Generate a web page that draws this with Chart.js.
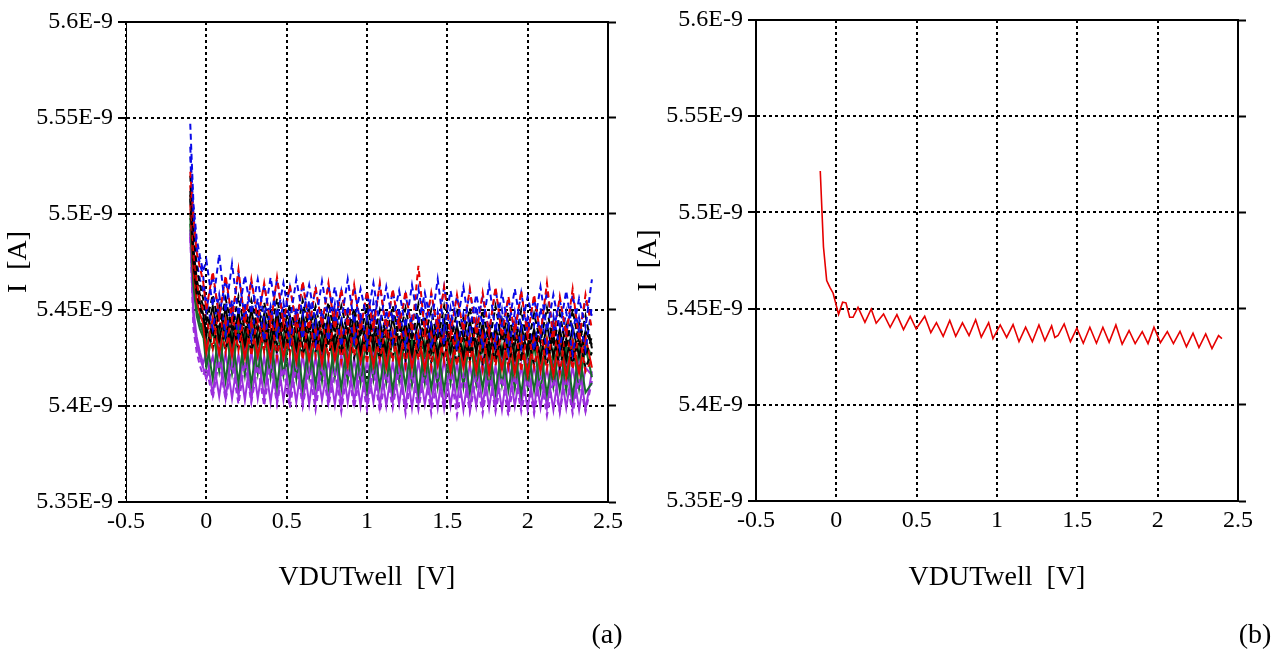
<!DOCTYPE html>
<html><head><meta charset="utf-8">
<script src="https://cdn.jsdelivr.net/npm/chart.js@4.4.1/dist/chart.umd.min.js"></script>
<style>
html,body{margin:0;padding:0;background:#fff;}
body{width:1287px;height:657px;position:relative;overflow:hidden;font-family:'Liberation Serif',serif;}
canvas{position:absolute;top:0;}
#ca{left:0;}
#cb{left:630px;}
.lab{position:absolute;top:617px;width:60px;text-align:center;font-size:28px;line-height:34px;color:#000;font-family:'Liberation Serif',serif;}
</style></head><body>
<canvas id="ca" width="630" height="657"></canvas>
<canvas id="cb" width="657" height="657"></canvas>
<div class="lab" style="left:577px">(a)</div>
<div class="lab" style="left:1225px">(b)</div>
<script>
const xTicks = [-0.5, 0, 0.5, 1, 1.5, 2, 2.5];
const yTicks = [5.35, 5.4, 5.45, 5.5, 5.55, 5.6];
const xTitle = 'VDUTwell  [V]';
const yTitle = 'I  [A]';

// Panel (a): shared sweep voltages (V)
const xa = [-0.1,-0.08,-0.06,-0.04,-0.02,0,0.04,0.08,0.12,0.16,0.2,0.24,0.28,0.32,0.36,0.4,0.44,0.48,0.52,0.56,0.6,0.64,0.68,0.72,0.76,0.8,0.84,0.88,0.92,0.96,1,1.04,1.08,1.12,1.16,1.2,1.24,1.28,1.32,1.36,1.4,1.44,1.48,1.52,1.56,1.6,1.64,1.68,1.72,1.76,1.8,1.84,1.88,1.92,1.96,2,2.04,2.08,2.12,2.16,2.2,2.24,2.28,2.32,2.36,2.4];

// Panel (a) currents, in units of 1E-9 A
const blueDash1 = [5.547,5.505,5.487,5.478,5.470,5.476,5.452,5.479,5.449,5.474,5.447,5.468,5.448,5.466,5.445,5.467,5.446,5.464,5.444,5.466,5.447,5.463,5.443,5.465,5.445,5.462,5.444,5.466,5.443,5.461,5.445,5.464,5.442,5.462,5.444,5.460,5.441,5.463,5.443,5.459,5.442,5.466,5.440,5.460,5.443,5.462,5.440,5.458,5.442,5.463,5.439,5.459,5.441,5.461,5.440,5.457,5.442,5.462,5.439,5.458,5.440,5.460,5.438,5.456,5.441,5.466];
const redDash1 = [5.522,5.498,5.480,5.472,5.465,5.450,5.470,5.446,5.468,5.445,5.471,5.443,5.466,5.444,5.464,5.442,5.467,5.443,5.463,5.441,5.465,5.440,5.462,5.442,5.464,5.440,5.461,5.441,5.463,5.439,5.460,5.440,5.464,5.438,5.461,5.440,5.460,5.439,5.473,5.438,5.459,5.440,5.462,5.437,5.458,5.439,5.461,5.437,5.459,5.438,5.462,5.436,5.457,5.438,5.460,5.436,5.458,5.437,5.464,5.435,5.457,5.437,5.461,5.434,5.458,5.440];
const blueDash3 = [5.535,5.500,5.482,5.474,5.468,5.450,5.468,5.447,5.466,5.446,5.469,5.445,5.465,5.446,5.463,5.444,5.466,5.445,5.462,5.443,5.464,5.444,5.461,5.442,5.463,5.443,5.460,5.441,5.462,5.443,5.459,5.441,5.463,5.440,5.460,5.442,5.458,5.440,5.461,5.441,5.458,5.439,5.462,5.441,5.457,5.439,5.460,5.440,5.457,5.438,5.461,5.440,5.456,5.438,5.459,5.439,5.456,5.437,5.460,5.439,5.455,5.437,5.458,5.438,5.455,5.447];
const blueDash2 = [5.530,5.492,5.475,5.466,5.460,5.455,5.440,5.458,5.437,5.455,5.436,5.454,5.435,5.456,5.434,5.452,5.436,5.454,5.433,5.451,5.435,5.455,5.432,5.450,5.434,5.453,5.431,5.452,5.433,5.449,5.432,5.454,5.430,5.450,5.433,5.451,5.431,5.448,5.432,5.453,5.430,5.449,5.432,5.451,5.429,5.448,5.431,5.452,5.430,5.447,5.431,5.450,5.428,5.449,5.430,5.446,5.429,5.451,5.428,5.447,5.430,5.449,5.427,5.446,5.429,5.452];
const blackDash1 = [5.520,5.490,5.472,5.463,5.456,5.443,5.458,5.441,5.456,5.440,5.457,5.439,5.455,5.440,5.454,5.438,5.456,5.439,5.453,5.437,5.455,5.438,5.452,5.437,5.454,5.436,5.452,5.438,5.451,5.436,5.453,5.435,5.450,5.437,5.452,5.435,5.451,5.434,5.453,5.436,5.450,5.434,5.452,5.433,5.449,5.435,5.451,5.433,5.450,5.432,5.452,5.434,5.449,5.432,5.450,5.431,5.448,5.433,5.451,5.431,5.448,5.430,5.450,5.432,5.447,5.430];
const blackDash3 = [5.512,5.482,5.466,5.458,5.452,5.450,5.436,5.452,5.435,5.451,5.434,5.450,5.433,5.451,5.434,5.449,5.432,5.450,5.433,5.448,5.431,5.450,5.432,5.447,5.431,5.449,5.430,5.447,5.432,5.446,5.430,5.448,5.429,5.446,5.431,5.447,5.429,5.445,5.430,5.447,5.428,5.445,5.430,5.444,5.428,5.446,5.427,5.444,5.429,5.443,5.427,5.445,5.428,5.443,5.426,5.444,5.428,5.442,5.426,5.444,5.427,5.442,5.425,5.443,5.426,5.436];
const redDash2 = [5.515,5.480,5.465,5.455,5.450,5.446,5.430,5.451,5.428,5.449,5.429,5.450,5.426,5.447,5.428,5.449,5.425,5.446,5.427,5.448,5.424,5.447,5.426,5.445,5.425,5.448,5.423,5.444,5.426,5.447,5.422,5.445,5.424,5.443,5.423,5.446,5.421,5.444,5.424,5.442,5.420,5.445,5.423,5.443,5.421,5.441,5.422,5.444,5.419,5.442,5.421,5.440,5.420,5.443,5.418,5.441,5.420,5.439,5.419,5.442,5.417,5.440,5.419,5.438,5.418,5.424];
const blackSolid = [5.510,5.478,5.462,5.454,5.448,5.437,5.452,5.434,5.451,5.433,5.449,5.432,5.450,5.433,5.448,5.431,5.449,5.432,5.447,5.430,5.448,5.431,5.446,5.429,5.447,5.430,5.445,5.431,5.447,5.428,5.446,5.430,5.444,5.428,5.446,5.429,5.444,5.427,5.445,5.429,5.443,5.427,5.445,5.428,5.442,5.426,5.444,5.428,5.443,5.426,5.441,5.427,5.443,5.425,5.442,5.427,5.440,5.425,5.442,5.426,5.440,5.424,5.441,5.426,5.439,5.432];
const greenSolid = [5.495,5.462,5.447,5.440,5.436,5.436,5.414,5.440,5.413,5.438,5.412,5.439,5.411,5.437,5.413,5.438,5.410,5.436,5.412,5.437,5.409,5.435,5.411,5.437,5.410,5.434,5.409,5.436,5.411,5.433,5.408,5.435,5.410,5.434,5.408,5.432,5.410,5.435,5.407,5.433,5.409,5.431,5.408,5.434,5.410,5.432,5.407,5.430,5.409,5.433,5.407,5.431,5.408,5.429,5.406,5.432,5.408,5.430,5.406,5.428,5.408,5.431,5.405,5.429,5.407,5.412];
const greenSolid2 = [5.498,5.465,5.450,5.443,5.438,5.420,5.440,5.418,5.442,5.417,5.441,5.416,5.443,5.417,5.440,5.415,5.442,5.416,5.439,5.414,5.441,5.415,5.438,5.413,5.440,5.415,5.437,5.413,5.439,5.412,5.437,5.414,5.438,5.412,5.436,5.413,5.438,5.411,5.436,5.412,5.435,5.410,5.437,5.412,5.435,5.410,5.436,5.411,5.434,5.409,5.436,5.411,5.433,5.409,5.435,5.410,5.432,5.408,5.434,5.410,5.432,5.408,5.433,5.409,5.431,5.415];
const redSolid = [5.505,5.470,5.455,5.448,5.443,5.428,5.446,5.427,5.445,5.426,5.446,5.425,5.444,5.426,5.443,5.424,5.445,5.425,5.442,5.423,5.444,5.424,5.441,5.422,5.443,5.424,5.440,5.421,5.442,5.423,5.440,5.421,5.441,5.420,5.439,5.422,5.441,5.420,5.438,5.419,5.440,5.421,5.438,5.418,5.439,5.420,5.437,5.418,5.439,5.417,5.436,5.419,5.438,5.417,5.436,5.416,5.437,5.418,5.435,5.416,5.437,5.415,5.434,5.417,5.436,5.420];
const blackDash2 = [5.508,5.474,5.458,5.451,5.446,5.440,5.430,5.446,5.429,5.444,5.430,5.445,5.428,5.443,5.429,5.444,5.427,5.442,5.428,5.443,5.426,5.441,5.428,5.443,5.426,5.440,5.427,5.442,5.425,5.440,5.427,5.441,5.424,5.439,5.426,5.441,5.424,5.438,5.425,5.440,5.423,5.438,5.425,5.439,5.422,5.437,5.424,5.439,5.422,5.436,5.423,5.438,5.421,5.436,5.423,5.437,5.421,5.435,5.422,5.437,5.420,5.435,5.422,5.436,5.420,5.428];
const greenDash = [5.500,5.466,5.452,5.445,5.440,5.432,5.446,5.429,5.445,5.428,5.444,5.427,5.445,5.428,5.443,5.426,5.444,5.427,5.442,5.425,5.443,5.426,5.441,5.425,5.443,5.424,5.440,5.426,5.442,5.424,5.440,5.423,5.441,5.425,5.439,5.423,5.441,5.422,5.439,5.424,5.438,5.422,5.440,5.421,5.438,5.423,5.437,5.421,5.439,5.420,5.437,5.422,5.436,5.420,5.438,5.419,5.436,5.421,5.435,5.419,5.437,5.418,5.435,5.420,5.434,5.425];
const purpleSolid = [5.490,5.445,5.432,5.425,5.420,5.414,5.426,5.405,5.428,5.404,5.427,5.403,5.429,5.404,5.426,5.402,5.428,5.403,5.425,5.402,5.427,5.401,5.426,5.403,5.424,5.401,5.427,5.402,5.425,5.400,5.424,5.402,5.426,5.400,5.423,5.401,5.425,5.399,5.424,5.401,5.422,5.399,5.425,5.400,5.423,5.398,5.422,5.400,5.424,5.399,5.421,5.398,5.423,5.400,5.421,5.398,5.422,5.399,5.420,5.398,5.422,5.399,5.421,5.398,5.420,5.416];
const purpleSolid2 = [5.492,5.450,5.436,5.428,5.422,5.428,5.406,5.431,5.404,5.430,5.405,5.432,5.403,5.429,5.404,5.431,5.402,5.428,5.404,5.430,5.401,5.429,5.403,5.427,5.402,5.430,5.400,5.428,5.402,5.426,5.401,5.429,5.400,5.427,5.402,5.425,5.399,5.428,5.401,5.426,5.400,5.427,5.399,5.425,5.401,5.428,5.398,5.426,5.400,5.424,5.399,5.427,5.398,5.425,5.400,5.423,5.398,5.426,5.399,5.424,5.397,5.425,5.399,5.423,5.398,5.418];
const purpleDash = [5.488,5.440,5.428,5.421,5.416,5.420,5.404,5.424,5.403,5.422,5.401,5.423,5.402,5.421,5.400,5.422,5.401,5.420,5.399,5.421,5.400,5.419,5.398,5.421,5.400,5.418,5.397,5.420,5.399,5.418,5.398,5.419,5.397,5.417,5.399,5.419,5.396,5.417,5.398,5.418,5.396,5.416,5.398,5.418,5.395,5.416,5.397,5.415,5.396,5.417,5.397,5.415,5.395,5.416,5.397,5.414,5.396,5.416,5.395,5.414,5.397,5.415,5.396,5.414,5.397,5.413];

// Panel (b): single curve, vertices
const xb = [-0.1,-0.08,-0.06,-0.04,-0.02,0.014,0.039,0.06,0.083,0.104,0.135,0.178,0.217,0.248,0.294,0.335,0.377,0.418,0.46,0.497,0.55,0.588,0.623,0.665,0.706,0.743,0.785,0.826,0.867,0.902,0.948,0.975,1.02,1.06,1.10,1.137,1.178,1.22,1.261,1.298,1.34,1.36,1.38,1.418,1.457,1.497,1.537,1.578,1.619,1.659,1.698,1.74,1.779,1.822,1.86,1.904,1.94,1.977,2.017,2.06,2.098,2.139,2.179,2.22,2.257,2.299,2.338,2.379,2.40];
const yb = [5.5215,5.482,5.4646,5.461,5.458,5.447,5.4533,5.453,5.4455,5.4455,5.4507,5.4429,5.4498,5.4424,5.4472,5.4403,5.4469,5.4391,5.446,5.4394,5.446,5.4375,5.4427,5.4356,5.4438,5.4356,5.4426,5.436,5.4442,5.4352,5.4427,5.4344,5.4415,5.435,5.4417,5.4328,5.4403,5.4328,5.4415,5.4333,5.441,5.435,5.436,5.442,5.4328,5.4398,5.432,5.4403,5.432,5.4403,5.4325,5.4415,5.4315,5.4386,5.4318,5.438,5.4318,5.4403,5.4323,5.438,5.4318,5.4382,5.4302,5.4372,5.4297,5.4368,5.4292,5.436,5.4344];

const BLUE = '#0a0ae8', RED = '#e60000', BLACK = '#000000', GREEN = '#17692a', PURPLE = '#9b2fdc';
const DASH = [6, 4];

const seriesA = [
  {y: blueDash1, c: BLUE, d: DASH},
  {y: redDash1, c: RED, d: DASH},
  {y: blueDash3, c: BLUE, d: DASH},
  {y: blackDash1, c: BLACK, d: DASH},
  {y: blueDash2, c: BLUE, d: DASH},
  {y: redDash2, c: RED, d: DASH},
  {y: blackDash3, c: BLACK, d: DASH},
  {y: blackDash2, c: BLACK, d: DASH},
  {y: blackSolid, c: BLACK, d: []},
  {y: redSolid, c: RED, d: []},
  {y: greenDash, c: GREEN, d: DASH},
  {y: greenSolid, c: GREEN, d: []},
  {y: purpleDash, c: PURPLE, d: DASH},
  {y: greenSolid2, c: GREEN, d: []},
  {y: purpleSolid, c: PURPLE, d: []},
  {y: purpleSolid2, c: PURPLE, d: []}
];

const fmtY = v => (Math.round(v * 1000) / 1000) + 'E-9';

function buildOptions(g) {
  const font = {family: 'Liberation Serif', size: 24};
  const tfont = {family: 'Liberation Serif', size: 28};
  const setX = s => { s.ticks = xTicks.map(v => ({value: v})); };
  const setY = s => { s.ticks = yTicks.map(v => ({value: v})); };
  return {
    responsive: false, animation: false, devicePixelRatio: 1,
    layout: {padding: 0},
    plugins: {legend: {display: false}, tooltip: {enabled: false}, title: {display: false}},
    elements: {point: {radius: 0}, line: {tension: 0}},
    scales: {
      x: {type: 'linear', position: 'bottom', min: -0.5, max: 2.5,
          afterBuildTicks: setX, afterFit: s => { s.height = g.bottomH; },
          ticks: {font, color: '#000', padding: 5, callback: v => String(v), maxRotation: 0, autoSkip: false},
          grid: {color: '#000', lineWidth: 2, drawTicks: false},
          border: {display: true, color: '#000', width: 2, dash: [3, 3]},
          title: {display: true, text: xTitle, font: tfont, color: '#000', padding: {top: 0, bottom: 63}}},
      xT: {type: 'linear', position: 'top', min: -0.5, max: 2.5,
          afterBuildTicks: setX, afterFit: s => { s.height = g.topH; },
          ticks: {display: false}, grid: {display: false, drawTicks: false},
          border: {display: true, color: '#000', width: 2}},
      y: {type: 'linear', position: 'left', min: 5.35, max: 5.6,
          afterBuildTicks: setY, afterFit: s => { s.width = g.leftW; },
          ticks: {font, color: '#000', padding: 5, callback: v => fmtY(v), autoSkip: false},
          grid: {color: '#000', lineWidth: 2, drawTicks: true, tickLength: 8, tickColor: '#000', tickWidth: 2, tickBorderDash: []},
          border: {display: true, color: '#000', width: g.leftBorderW, dash: [3, 3]},
          title: {display: true, text: yTitle, font: tfont, color: '#000', padding: {top: 2, bottom: 0}}},
      yR: {type: 'linear', position: 'right', min: 5.35, max: 5.6,
          afterBuildTicks: setY, afterFit: s => { s.width = g.rightW; },
          ticks: {display: false},
          grid: {color: '#000', drawOnChartArea: false, drawTicks: true, tickLength: 8, tickColor: '#000', tickWidth: 2},
          border: {display: true, color: '#000', width: 2}}
    }
  };
}

new Chart(document.getElementById('ca'), {
  type: 'scatter',
  data: {
    datasets: seriesA.map(s => ({
      data: xa.map((x, i) => ({x: x, y: s.y[i]})),
      showLine: true, borderColor: s.c, backgroundColor: s.c,
      borderWidth: 2, borderDash: s.d, pointRadius: 0, fill: false,
      xAxisID: 'x', yAxisID: 'y'
    }))
  },
  options: buildOptions({leftW: 126, rightW: 22, topH: 22, bottomH: 155, leftBorderW: 1})
});

new Chart(document.getElementById('cb'), {
  type: 'scatter',
  data: {
    datasets: [{
      data: xb.map((x, i) => ({x: x, y: yb[i]})),
      showLine: true, borderColor: RED, backgroundColor: RED,
      borderWidth: 1.6, pointRadius: 0, fill: false,
      xAxisID: 'x', yAxisID: 'y'
    }]
  },
  options: buildOptions({leftW: 126, rightW: 49, topH: 20, bottomH: 156, leftBorderW: 2})
});
</script>
</body></html>
